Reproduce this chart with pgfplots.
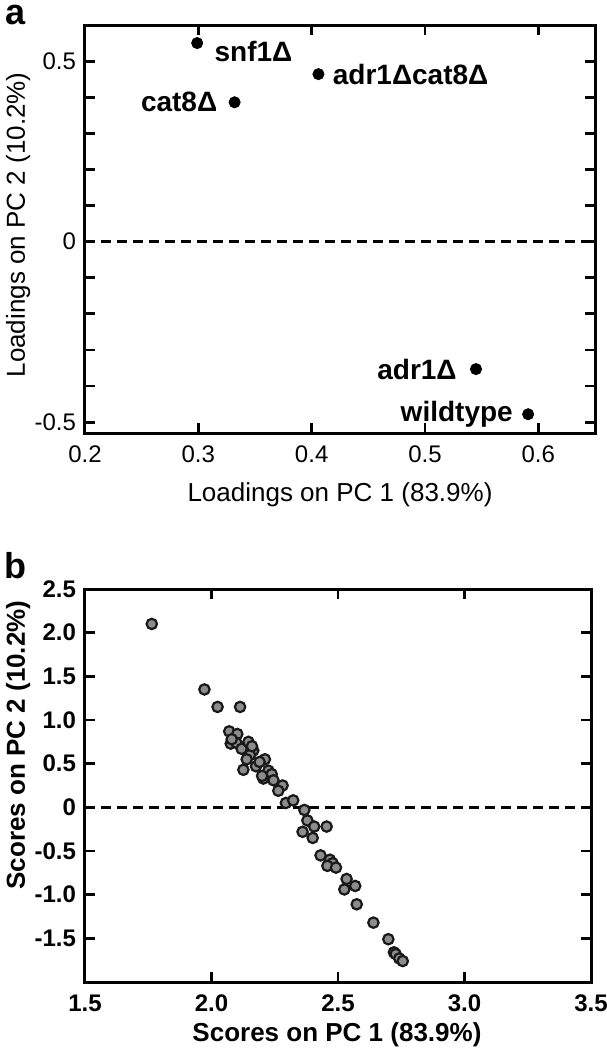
\documentclass[border=0pt]{standalone}
\usepackage{pgfplots}
\pgfplotsset{compat=1.18}
\usepackage{fontspec}
\setmainfont{Liberation Sans}

\tikzset{lbl/.style={font=\bfseries\fontsize{14}{16}\selectfont, inner sep=0pt}}
\pgfplotsset{
  pcbox/.style={
    scale only axis,
    axis line style={line width=1.5pt},
    every tick/.style={black, line width=1.4pt},
    major tick length=5pt, minor tick length=5pt,
    tick align=inside,
    /pgf/number format/assume math mode=true,
    clip=false,
  },
}

\begin{document}
\begin{tikzpicture}
\useasboundingbox (0,0) rectangle (303pt,-525pt);

% panel a: loadings
\begin{axis}[pcbox,
  at={(42.5pt,-216.5pt)}, anchor=south west,
  width=255pt, height=204pt,
  xmin=0.2, xmax=0.65, ymin=-0.53, ymax=0.6,
  xtick={0.2,0.3,0.4,0.5,0.6}, xticklabels={0.2,0.3,0.4,0.5,0.6},
  ytick={-0.5,0,0.5}, yticklabels={-0.5,0,0.5},
  minor ytick={-0.4,-0.3,-0.2,-0.1,0.1,0.2,0.3,0.4},
  tick label style={font=\fontsize{12}{14}\selectfont},
  xticklabel style={yshift=-3pt},
  yticklabel style={xshift=-1pt},
  xlabel={Loadings on PC 1 (83.9\%)},
  ylabel={Loadings on PC 2 (10.2\%)},
  label style={font=\fontsize{13}{15}\selectfont},
  xlabel style={at={(axis description cs:0.5,-0.152)}, anchor=center},
  ylabel style={at={(axis description cs:-0.131,0.51)}, anchor=center},
]
\addplot[black, line width=1.2pt, dash pattern=on 5pt off 3pt] coordinates {(0.2,0) (0.65,0)};
\addplot[only marks, mark=*, mark size=2.8pt, black] coordinates {
  (0.299,0.550) (0.406,0.464) (0.332,0.386) (0.545,-0.353) (0.591,-0.478)
};
\node[lbl, anchor=west, xshift=8.5pt, yshift=-4pt] at (axis cs:0.299,0.550) {snf1Δ};
\node[lbl, anchor=west, xshift=7pt] at (axis cs:0.406,0.464) {adr1Δcat8Δ};
\node[lbl, anchor=east, xshift=-8.5pt] at (axis cs:0.332,0.386) {cat8Δ};
\node[lbl, anchor=east, xshift=-9.5pt] at (axis cs:0.545,-0.353) {adr1Δ};
\node[lbl, anchor=east, xshift=-7.5pt] at (axis cs:0.591,-0.478) {wildtype};
\end{axis}

% panel b: scores
\begin{axis}[pcbox,
  at={(42.5pt,-491pt)}, anchor=south west,
  width=253pt, height=196.5pt,
  xmin=1.5, xmax=3.5, ymin=-2, ymax=2.5,
  xtick={1.5,2,2.5,3,3.5}, xticklabels={1.5,2.0,2.5,3.0,3.5},
  ytick={-1.5,-1,-0.5,0,0.5,1,1.5,2,2.5},
  yticklabels={-1.5,-1.0,-0.5,0,0.5,1.0,1.5,2.0,2.5},
  tick label style={font=\bfseries\fontsize{12}{14}\selectfont},
  xticklabel style={yshift=-3pt},
  yticklabel style={xshift=-1pt},
  xlabel={Scores on PC 1 (83.9\%)},
  ylabel={Scores on PC 2 (10.2\%)},
  label style={font=\bfseries\fontsize{13}{15}\selectfont},
  xlabel style={at={(axis description cs:0.498,-0.135)}, anchor=center},
  ylabel style={at={(axis description cs:-0.132,0.603)}, anchor=center},
]
\addplot[black, line width=1.2pt, dash pattern=on 5pt off 3pt] coordinates {(1.5,0) (3.5,0)};
\addplot[only marks, mark=*, mark size=2.6pt,
  mark options={draw=black!90, fill=black!45, line width=1.1pt}] coordinates {
  (1.764,2.10) (1.972,1.35) (2.024,1.15) (2.113,1.15)
  (2.070,0.87) (2.102,0.84) (2.076,0.73) (2.098,0.74) (2.080,0.78)
  (2.119,0.67) (2.146,0.75) (2.165,0.65) (2.152,0.60) (2.160,0.70)
  (2.139,0.55) (2.211,0.55) (2.176,0.47) (2.126,0.43) (2.190,0.52)
  (2.225,0.42) (2.238,0.38) (2.205,0.33) (2.245,0.31) (2.200,0.36)
  (2.281,0.25) (2.264,0.19) (2.294,0.05) (2.323,0.08) (2.367,-0.03)
  (2.379,-0.15) (2.406,-0.22) (2.455,-0.22) (2.360,-0.28) (2.400,-0.35)
  (2.431,-0.55) (2.468,-0.60) (2.479,-0.64) (2.458,-0.67) (2.492,-0.69)
  (2.534,-0.82) (2.525,-0.94) (2.568,-0.90) (2.574,-1.11) (2.640,-1.32)
  (2.699,-1.51) (2.721,-1.66) (2.728,-1.68) (2.742,-1.73) (2.756,-1.76)
};
\end{axis}

\node[font=\bfseries\fontsize{18}{18}\selectfont, inner sep=0pt, anchor=north west] at (2.5pt,-2.5pt) {a};
\node[font=\bfseries\fontsize{18}{18}\selectfont, inner sep=0pt, anchor=north west] at (2pt,-276pt) {b};
\end{tikzpicture}
\end{document}
